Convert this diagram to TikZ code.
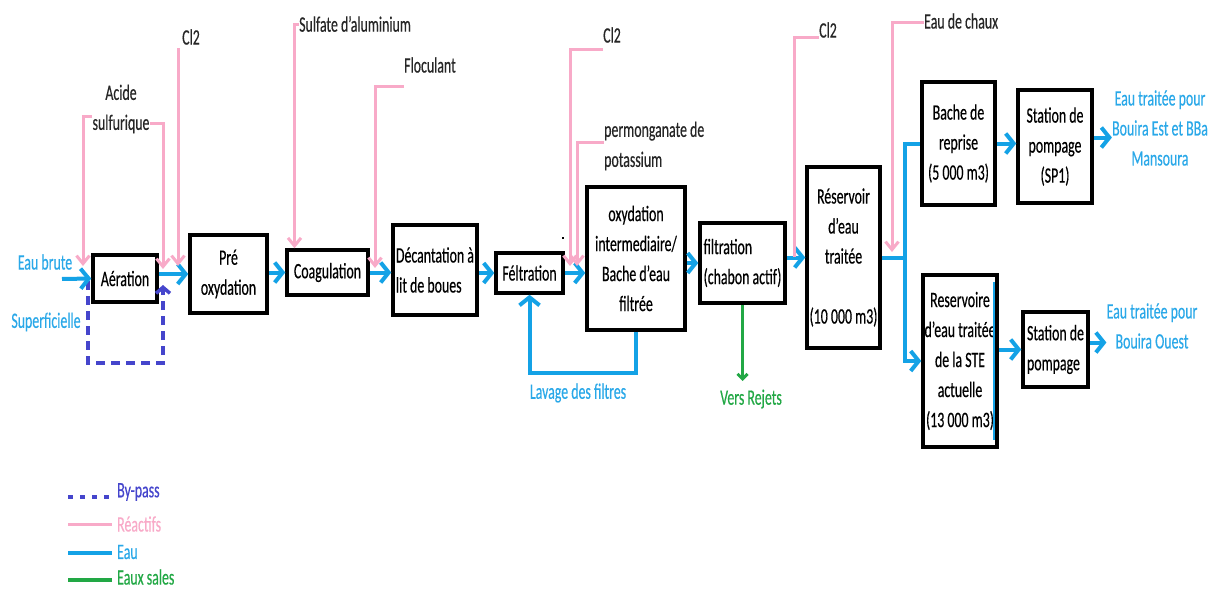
\documentclass[tikz,border=0pt]{standalone}
\usepackage{fontspec}
\setmainfont{Carlito}[FakeStretch=0.63,FakeBold=0.4]
\usetikzlibrary{arrows.meta,calc}
\definecolor{wblue}{HTML}{14A2E6}
\definecolor{tblue}{HTML}{2AA8E8}
\definecolor{rpink}{HTML}{F8AAC8}
\definecolor{bviolet}{HTML}{4545CC}
\definecolor{dgreen}{HTML}{22A845}
\tikzset{
  box/.style={draw=black, line width=3.5pt, inner sep=0pt, align=center},
  water/.style={draw=wblue, line width=4pt, -{Straight Barb[length=8pt,width=20pt]}},
  waterline/.style={draw=wblue, line width=4pt},
  reag/.style={draw=rpink, line width=3pt, -{Straight Barb[length=8pt,width=13pt]}},
  reagline/.style={draw=rpink, line width=3pt},
  bypass/.style={draw=bviolet, line width=3.5pt, dash pattern=on 9pt off 6pt, -{Straight Barb[length=6pt,width=14pt]}},
  dirty/.style={draw=dgreen, line width=3pt, -{Straight Barb[length=5pt,width=10pt]}},
  lbl/.style={inner sep=0pt, text=black!85},
  blbl/.style={inner sep=0pt, text=tblue, align=center},
}
\begin{document}
\begin{tikzpicture}[x=1pt,y=-1pt,font=\fontsize{22}{30}\selectfont]
\useasboundingbox (0,0) rectangle (1215,589);

% boxes
\node[box, minimum width=64pt, minimum height=47pt] (aer) at (125,278.5) {Aération};
\node[box, minimum width=77pt, minimum height=78pt] (pre) at (228.5,274) {Pré\\oxydation};
\node[box, minimum width=81pt, minimum height=45pt] (coag) at (327.5,272.5) {Coagulation};
\node[box, minimum width=84pt, minimum height=90pt, align=left] (dec) at (435,270) {Décantation à\\lit de boues};
\node[box, minimum width=67pt, minimum height=40pt] (felt) at (529.5,273) {Féltration};
\node[box, minimum width=98pt, minimum height=143pt] (oxy) at (636,258.5) {oxydation\\intermediaire/\\Bache d'eau\\filtrée};
\node[box, minimum width=85pt, minimum height=80pt, align=left] (filt) at (742.5,263) {filtration\\(chabon actif)};
\node[box, minimum width=73pt, minimum height=181pt] (res) at (843.5,257.5) {Réservoir\\d'eau\\traitée\\[30pt](10 000 m3)};
\node[box, minimum width=73pt, minimum height=123pt] (bache) at (958.5,143.5) {Bache de\\reprise\\(5 000 m3)};
\node[box, minimum width=74pt, minimum height=113pt] (sp1) at (1055,146.5) {Station de\\pompage\\(SP1)};
\node[box, minimum width=74pt, minimum height=172pt] (ste) at (960,361) {Reservoire\\d'eau traitée\\de la STE\\actuelle\\(13 000 m3)};
\node[box, minimum width=65pt, minimum height=75pt, align=left] (st2) at (1055.5,349.5) {Station de\\pompage};
\draw[wblue, line width=1.2pt] (994,282) -- (994,440);

% labels
\node[blbl] (eaubrute) at (45,262) {Eau brute};
\node[blbl] (superf) at (46,322) {Superficielle};
\node[lbl, align=center] (acide) at (121,109) {Acide\\sulfurique};
\node[lbl] (cl2a) at (191,37) {Cl2};
\node[lbl, anchor=west] (sulfate) at (299,24) {Sulfate d'aluminium};
\node[lbl, anchor=west] (floc) at (404,65) {Floculant};
\node[lbl, anchor=west] (cl2b) at (603,35) {Cl2};
\node[lbl, anchor=west, align=left] (perm) at (604,146) {permonganate de\\potassium};
\node[lbl, anchor=west] (cl2c) at (819,30) {Cl2};
\node[lbl, anchor=west] (chaux) at (924,21) {Eau de chaux};
\node[blbl] (out1) at (1160,128) {Eau traitée pour\\Bouira Est et BBa\\Mansoura};
\node[blbl] (out2) at (1152,326) {Eau traitée pour\\Bouira Ouest};
\node[blbl] (lavage) at (578,393) {Lavage des filtres};
\node[inner sep=0pt, text=dgreen] (rejets) at (751,399) {Vers Rejets};
\fill[black] (562,237) rectangle (564,239);

% coordinates
\coordinate (in) at (62,279);
\coordinate (j) at (905,257.5);
\coordinate (lavM) at (580,373);
\coordinate (rej) at (742.5,381);
\coordinate (bpA) at (88,281);
\coordinate (bpM) at (125,363);
\coordinate (bpE) at (163,285);
\coordinate (pA1) at (83,266);
\coordinate (pA2) at (163,269);
\coordinate (c1top) at (178,48);
\coordinate (c1end) at (178,266);
\coordinate (pF) at (375,268);
\coordinate (pB) at (570,266);
\coordinate (pP) at (577,266);
\coordinate (pC) at (794,257);
\coordinate (pCh) at (892,252);

% bypass
\draw[bypass] (bpA) |- (bpM) -| (bpE);

% water flow
\draw[water] (in) -- (aer.west);
\draw[water] (aer.east |- pre.west) -- (pre.west);
\draw[water] (pre.east |- coag.west) -- (coag.west);
\draw[water] (coag.east) -- (coag.east -| dec.west);
\draw[water] (dec.east |- felt.west) -- (felt.west);
\draw[water] (felt.east) -- (felt.east -| oxy.west);
\draw[water] (oxy.east |- filt.west) -- (filt.west);
\draw[water] (filt.east |- res.west) -- (res.west);
\draw[waterline] (res.east) -- (j);
\draw[waterline] (j) |- (bache.west);
\draw[water] (j) |- (ste.west);
\draw[water] (bache.east) -- (bache.east -| sp1.west);
\draw[water] ([yshift=9pt]sp1.east) -- ([yshift=9pt]sp1.east -| out1.west);
\draw[water] (ste.east |- st2.west) -- (st2.west);
\draw[water] ([yshift=7pt]st2.east) -- ([yshift=7pt]st2.east -| out2.west);
\draw[water] (oxy.south) |- (lavM) -| (felt.south);
\draw[dirty] (filt.south) -- (rej);

% reagents
\draw[reag] ([yshift=-7pt]acide.west) -| (pA1);
\draw[reag] ([yshift=-14pt]acide.east) -| (pA2);
\draw[reag] (c1top) -- (c1end);
\draw[reag] (sulfate.west) -| ([xshift=-33pt]coag.north);
\draw[reag] ([yshift=-21pt]floc.west) -| (pF);
\draw[reag] ([yshift=-14pt]cl2b.west) -| (pB);
\draw[reag] ([yshift=4pt]perm.west) -| (pP);
\draw[reagline] ([yshift=-7pt]cl2c.west) -| (pC);
\draw[reag] ([yshift=-1pt]chaux.west) -| (pCh);

% legend
\coordinate (l1a) at (68,497); \coordinate (l1b) at (112,497);
\coordinate (l2a) at (68,524); \coordinate (l2b) at (112,524);
\coordinate (l3a) at (68,553); \coordinate (l3b) at (112,553);
\coordinate (l4a) at (68,580); \coordinate (l4b) at (112,580);
\draw[draw=bviolet, line width=3.5pt, dash pattern=on 5pt off 7pt] (l1a) -- (l1b);
\draw[reagline] (l2a) -- (l2b);
\draw[waterline] (l3a) -- (l3b);
\draw[draw=dgreen, line width=4pt] (l4a) -- (l4b);
\node[inner sep=0pt, anchor=west, text=bviolet] (lg1) at (117,492) {By-pass};
\node[inner sep=0pt, anchor=west, text=rpink] (lg2) at (117,524) {Réactifs};
\node[inner sep=0pt, anchor=west, text=tblue] (lg3) at (117,552) {Eau};
\node[inner sep=0pt, anchor=west, text=dgreen] (lg4) at (117,577) {Eaux sales};
\end{tikzpicture}
\end{document}
